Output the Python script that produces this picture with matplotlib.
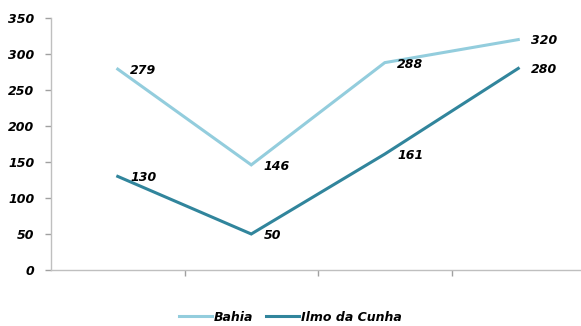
import matplotlib
matplotlib.use("Agg")
from matplotlib import pyplot as plt

# Dados do gráfico
categorias = [0, 1, 2, 3]
bahia = [279, 146, 288, 320]
ilmo_da_cunha = [130, 50, 161, 280]
series_nomes = ["Bahia", "Ilmo da Cunha"]
cores = ["#93CDDD", "#31859C"]
yticks = [0, 50, 100, 150, 200, 250, 300, 350]

fig = plt.figure(figsize=(5.81, 3.26), dpi=100)
ax = fig.add_axes([51 / 581, 1 - 270 / 326, 1 - 51 / 581, (270 - 18) / 326])

fonte = dict(family="DejaVu Sans", weight="bold", style="italic", size=9)

for valores, nome, cor in zip([bahia, ilmo_da_cunha], series_nomes, cores):
    ax.plot(categorias, valores, color=cor, linewidth=2.2, label=nome,
            solid_joinstyle="miter")
    for x, y in zip(categorias, valores):
        ax.annotate(str(y), (x, y), xytext=(9, -1), textcoords="offset points",
                    ha="left", va="center", **fonte)

ax.set_xlim(-0.5, 3.47)
ax.set_ylim(0, 350)
ax.set_yticks(yticks)
ax.set_xticks([0.5, 1.5, 2.5])
ax.set_xticklabels([])
for lbl in ax.get_yticklabels():
    lbl.set_fontfamily("DejaVu Sans")
    lbl.set_fontweight("bold")
    lbl.set_fontstyle("italic")
    lbl.set_fontsize(9)

for lado in ["top", "right"]:
    ax.spines[lado].set_visible(False)
for lado in ["left", "bottom"]:
    ax.spines[lado].set_color("#BFBFBF")
    ax.spines[lado].set_linewidth(1)
ax.tick_params(axis="both", colors="#A0A0A0", length=4, width=1, labelcolor="black")
ax.tick_params(axis="y", pad=8)

fig.legend(loc="lower center", bbox_to_anchor=(0.5, -0.027), ncol=2, frameon=False,
           handlelength=2.6, handletextpad=0.2, columnspacing=1.0,
           prop=dict(family="DejaVu Sans", weight="bold", style="italic", size=9))

plt.savefig("out.png", dpi=100)
